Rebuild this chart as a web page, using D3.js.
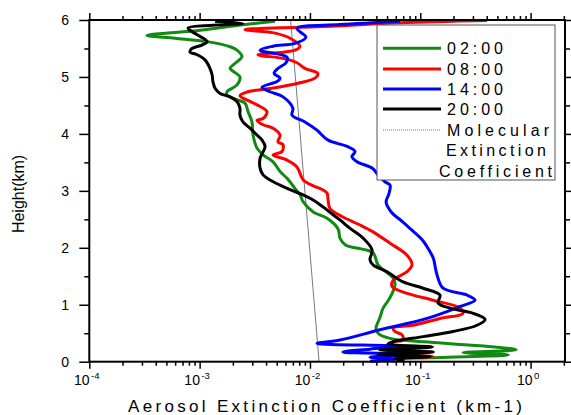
<!DOCTYPE html>
<html><head><meta charset="utf-8">
<script src="https://cdn.jsdelivr.net/npm/d3@7"></script>
<style>body{margin:0;background:#fff}svg{display:block}text{font-family:"Liberation Sans",Arial,sans-serif;fill:#000}</style>
</head><body><svg id="c" width="571" height="415"></svg>
<script>
// ---- data (height in km, aerosol extinction coefficient in km-1) ----
const h0200 = [0.01,0.05,0.07,0.12,0.16,0.21,0.28,0.35,0.41,0.50,0.59,0.77,0.94,1.12,1.35,1.47,1.70,1.91,2.05,2.17,2.33,2.52,2.63,2.81,2.93,3.04,3.22,3.34,3.51,3.63,3.75,3.98,4.21,4.39,4.54,4.60,4.68,4.74,4.86,5.00,5.15,5.21,5.36,5.47,5.53,5.62,5.68,5.73,5.82,5.91,5.98];
const v0200 = [0.059,0.043,0.123,0.625,0.244,0.74,0.35,0.106,0.053,0.0414,0.0397,0.043,0.046,0.053,0.059,0.0567,0.0414,0.0373,0.021,0.0187,0.018,0.0143,0.0107,0.00866,0.00813,0.00733,0.0062,0.00536,0.00463,0.00376,0.00331,0.00305,0.00298,0.00275,0.00258,0.00218,0.00177,0.00177,0.00218,0.00232,0.00189,0.00201,0.00242,0.00218,0.00189,0.00117,0.000598,0.000333,0.00101,0.00232,0.00483];

const h0800 = [0.01,0.05,0.09,0.15,0.21,0.29,0.35,0.38,0.47,0.53,0.59,0.64,0.76,0.85,0.94,1.08,1.20,1.32,1.43,1.58,1.70,1.87,2.08,2.28,2.40,2.54,2.69,2.84,2.96,3.02,3.08,3.19,3.42,3.54,3.63,3.69,3.81,3.86,3.98,4.10,4.16,4.24,4.27,4.39,4.51,4.57,4.67,4.74,4.81,4.89,4.98,5.06,5.15,5.25,5.32,5.39,5.44,5.47,5.54,5.68,5.77,5.83,5.89,5.95,5.99];
const v0800 = [0.059,0.043,0.131,0.0479,0.0808,0.053,0.0567,0.0698,0.0684,0.059,0.0567,0.086,0.151,0.244,0.23,0.131,0.0759,0.0555,0.0567,0.0759,0.0842,0.0759,0.0532,0.0373,0.0285,0.0199,0.0152,0.0146,0.0143,0.013,0.011,0.0087,0.00762,0.0062,0.00463,0.00558,0.0057,0.00513,0.00536,0.00463,0.00376,0.00331,0.00376,0.00408,0.00331,0.00286,0.00232,0.00275,0.00483,0.0078,0.0111,0.0118,0.009,0.00762,0.00594,0.00338,0.00594,0.00733,0.00813,0.0066,0.00483,0.00258,0.0152,0.0656,0.403];

const h1400 = [0.01,0.04,0.08,0.13,0.17,0.22,0.27,0.32,0.38,0.56,0.76,0.97,1.08,1.17,1.29,1.52,1.82,1.96,2.14,2.30,2.47,2.62,2.80,2.95,3.10,3.16,3.28,3.40,3.51,3.60,3.69,3.78,3.89,4.07,4.21,4.33,4.45,4.65,4.74,4.82,4.92,4.98,5.06,5.15,5.25,5.35,5.47,5.54,5.59,5.70,5.85,5.92,5.98];
const v1400 = [0.035,0.059,0.035,0.0808,0.0199,0.035,0.0656,0.0116,0.0187,0.043,0.115,0.23,0.314,0.266,0.161,0.142,0.131,0.12,0.104,0.085,0.068,0.055,0.049,0.052,0.0532,0.0479,0.0414,0.0366,0.0267,0.024,0.0256,0.0217,0.0146,0.0115,0.009,0.00688,0.0070,0.0057,0.00435,0.00368,0.00503,0.00536,0.00473,0.00513,0.00607,0.0062,0.00353,0.00463,0.00733,0.0092,0.00762,0.0187,0.0656];

const h2000 = [0.01,0.05,0.09,0.13,0.17,0.21,0.26,0.31,0.35,0.44,0.53,0.64,0.74,0.85,0.94,1.03,1.17,1.29,1.40,1.58,1.70,1.79,1.96,2.17,2.34,2.49,2.58,2.72,2.84,2.93,3.02,3.10,3.19,3.28,3.40,3.57,3.78,3.89,3.98,4.10,4.21,4.33,4.45,4.57,4.65,4.71,4.80,4.92,5.03,5.15,5.30,5.39,5.44,5.50,5.56,5.62,5.74,5.82,5.86,5.94,5.98];
const v2000 = [0.072,0.059,0.123,0.0414,0.131,0.043,0.129,0.051,0.0567,0.106,0.198,0.327,0.387,0.301,0.186,0.145,0.151,0.106,0.0698,0.050,0.0373,0.035,0.0366,0.0303,0.0231,0.0187,0.0162,0.0131,0.0107,0.00866,0.0066,0.00536,0.00435,0.00376,0.00353,0.00353,0.00392,0.00368,0.00331,0.00286,0.00247,0.00232,0.00232,0.00218,0.00189,0.00153,0.00138,0.00132,0.0013,0.00124,0.00112,0.00095,0.000818,0.000852,0.00105,0.00117,0.00095,0.000818,0.000785,0.00247,0.00138];

const hMolecular = [0, 6];
const vMolecular = [0.0121, 0.00668];

const seriesNames = ["02:00","08:00","14:00","20:00"];
const seriesColors = ["#118a11","#ff0000","#0000ff","#000000"];
const xTickExponents = ["-4","-3","-2","-1","0"];
const xTickValues = [1e-4,1e-3,1e-2,1e-1,1];
const yTickValues = [0,1,2,3,4,5,6];
const yMinorValues = [0.5,1.5,2.5,3.5,4.5,5.5];
const xTitle = "Aerosol Extinction Coefficient (km-1)";
const yTitle = "Height(km)";
const molLabel = ["Molecular","Extinction","Coefficient"];

// ---- layout ----
const L = 89.3, R = 565, T = 20, B = 361.7;
const svg = d3.select("#c");
const x = d3.scaleLog().domain([1e-4, 2.05]).range([L, R]);
const y = d3.scaleLinear().domain([0, 6]).range([B, T]);

const xMinor = x.ticks().filter(v => !xTickValues.some(t => Math.abs(t - v) / t < 1e-6));

function styleAxis(g){ g.select(".domain").remove(); g.selectAll("line").attr("stroke","#000").attr("stroke-width",1.5); g.selectAll("text").remove(); }

svg.append("g").attr("transform",`translate(0,${B})`).call(d3.axisBottom(x).tickValues(xTickValues).tickSize(7).tickFormat("")).call(styleAxis);
svg.append("g").attr("transform",`translate(0,${B})`).call(d3.axisBottom(x).tickValues(xMinor).tickSize(4).tickFormat("")).call(styleAxis);
svg.append("g").attr("transform",`translate(0,${T})`).call(d3.axisTop(x).tickValues(xTickValues).tickSize(7).tickFormat("")).call(styleAxis);
svg.append("g").attr("transform",`translate(0,${T})`).call(d3.axisTop(x).tickValues(xMinor).tickSize(4).tickFormat("")).call(styleAxis);
svg.append("g").attr("transform",`translate(${L},0)`).call(d3.axisLeft(y).tickValues(yTickValues).tickSize(10).tickFormat("")).call(styleAxis);
svg.append("g").attr("transform",`translate(${L},0)`).call(d3.axisLeft(y).tickValues(yMinorValues).tickSize(5).tickFormat("")).call(styleAxis);
svg.append("g").attr("transform",`translate(${R},0)`).call(d3.axisRight(y).tickValues(yTickValues).tickSize(8).tickFormat("")).call(styleAxis);
svg.append("g").attr("transform",`translate(${R},0)`).call(d3.axisRight(y).tickValues(yMinorValues).tickSize(5).tickFormat("")).call(styleAxis);

// tick labels
yTickValues.forEach(v => {
  svg.append("text").attr("x", 69).attr("y", y(v)).attr("dy","0.36em").attr("text-anchor","end").attr("font-size",14).text(String(v));
});
xTickValues.forEach((v,i) => {
  const t = svg.append("text").attr("x", x(v) - 2.5).attr("y", 385).attr("text-anchor","middle").attr("font-size",14);
  t.append("tspan").text("10");
  t.append("tspan").attr("font-size",9.5).attr("dy",-6).attr("dx",1.5).text(xTickExponents[i]);
});

// titles
svg.append("text").attr("x",128).attr("y",412).attr("font-size",17).attr("textLength",394).attr("lengthAdjust","spacing").text(xTitle);
svg.append("text").attr("transform","translate(24,194) rotate(-90)").attr("text-anchor","middle").attr("font-size",16).text(yTitle);

// molecular line
const line = d3.line().x(d => x(d[1])).y(d => y(d[0]));
svg.append("path").datum(hMolecular.map((h,i)=>[h,vMolecular[i]])).attr("d", line).attr("fill","none").attr("stroke","#7a7a7a").attr("stroke-width",1);

// series
const curve = d3.line().x(d => x(d[1])).y(d => y(d[0])).curve(d3.curveCatmullRom.alpha(0.5));
const series = [[h0200,v0200],[h0800,v0800],[h1400,v1400],[h2000,v2000]];
series.forEach((s,i) => {
  svg.append("path").datum(s[0].map((h,j)=>[h,s[1][j]])).attr("d", curve)
    .attr("fill","none").attr("stroke",seriesColors[i]).attr("stroke-width",3).attr("stroke-linejoin","round");
});

// frame
svg.append("rect").attr("x",L).attr("y",T).attr("width",R-L).attr("height",B-T).attr("fill","none").attr("stroke","#000").attr("stroke-width",2);

// legend
const lg = svg.append("g");
lg.append("rect").attr("x",377).attr("y",25).attr("width",178).attr("height",155).attr("fill","#fff").attr("stroke","#555").attr("stroke-width",1);
const rowY = [48.3,69,89,109];
seriesNames.forEach((n,i) => {
  lg.append("line").attr("x1",383).attr("x2",441).attr("y1",rowY[i]).attr("y2",rowY[i]).attr("stroke",seriesColors[i]).attr("stroke-width",3);
  lg.append("text").attr("x",447).attr("y",rowY[i]+5.7).attr("font-size",16).attr("textLength",56).attr("lengthAdjust","spacing").text(n);
});
lg.append("line").attr("x1",383).attr("x2",441).attr("y1",130).attr("y2",130).attr("stroke","#777").attr("stroke-width",1).attr("stroke-dasharray","1,1");
const molX = [447,446,439], molW = [102,100,113], molY = [135.5,156,176.5];
molLabel.forEach((t,i) => {
  lg.append("text").attr("x",molX[i]).attr("y",molY[i]).attr("font-size",16).attr("textLength",molW[i]).attr("lengthAdjust","spacing").text(t);
});
</script></body></html>
